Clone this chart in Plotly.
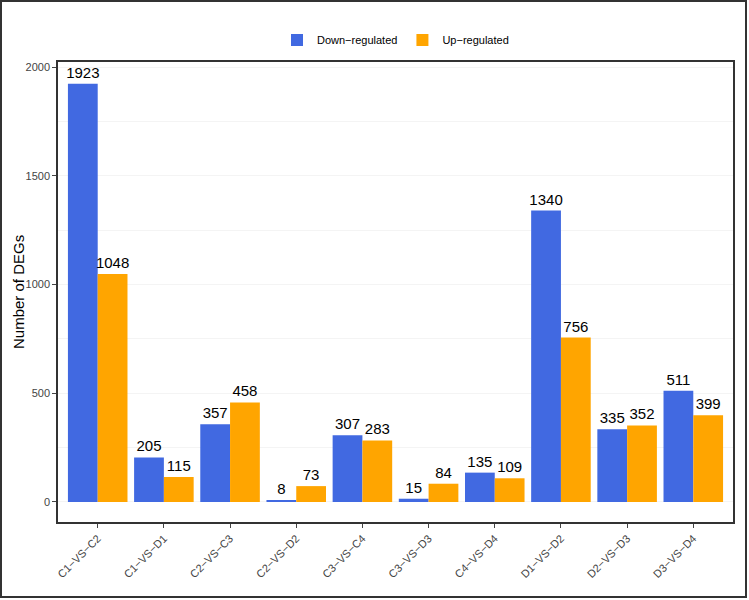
import plotly.graph_objects as go

categories = ["C1-VS-C2", "C1-VS-D1", "C2-VS-C3", "C2-VS-D2", "C3-VS-C4",
              "C3-VS-D3", "C4-VS-D4", "D1-VS-D2", "D2-VS-D3", "D3-VS-D4"]
tick_labels = ["C1−VS−C2", "C1−VS−D1", "C2−VS−C3", "C2−VS−D2", "C3−VS−C4",
               "C3−VS−D3", "C4−VS−D4", "D1−VS−D2", "D2−VS−D3", "D3−VS−D4"]
down = [1923, 205, 357, 8, 307, 15, 135, 1340, 335, 511]
up = [1048, 115, 458, 73, 283, 84, 109, 756, 352, 399]
y_ticks = [0, 500, 1000, 1500, 2000]

FONT = "Liberation Sans, Arial, Helvetica, sans-serif"

fig = go.Figure()
for vals, name, color in [(down, "Down−regulated", "#4169E1"), (up, "Up−regulated", "#FFA500")]:
    fig.add_trace(go.Bar(x=categories, y=vals, name=name,
                         marker=dict(color=color, line=dict(width=0)),
                         text=[str(v) for v in vals], textposition="outside",
                         textfont=dict(size=15, color="black", family=FONT),
                         constraintext="none", cliponaxis=False))

L, R, T, B = 58, 16, 62, 78
W, H = 749, 600
pw, ph = W - L - R, H - T - B

fig.update_layout(
    width=W, height=H,
    margin=dict(l=L, r=R, t=T, b=B, autoexpand=False),
    paper_bgcolor="white", plot_bgcolor="white",
    barmode="group", bargap=0.1, bargroupgap=0,
    font=dict(family=FONT, size=11, color="#333"),
    showlegend=True,
    legend=dict(orientation="h", x=0.5, xanchor="center", y=(522 - 40) / ph, yanchor="middle",
                font=dict(size=11, color="black"), traceorder="normal",
                itemwidth=30, tracegroupgap=0),
)
fig.update_xaxes(
    range=[-0.6, 9.6], tickmode="array", tickvals=categories, ticktext=tick_labels,
    tickangle=-45, tickfont=dict(size=11, color="#444"),
    ticks="outside", ticklen=4, tickcolor="#444", automargin=False,
    showline=True, linecolor="#333", linewidth=1.5, mirror=True,
    showgrid=False, zeroline=False,
)
fig.update_yaxes(
    range=[-92, 2023], tickmode="array", tickvals=y_ticks,
    ticks="outside", ticklen=4, tickcolor="#444", automargin=False,
    tickfont=dict(size=11, color="#444"),
    showline=True, linecolor="#333", linewidth=1.5, mirror=True,
    showgrid=True, gridcolor="#f4f4f4", gridwidth=1, zeroline=False,
    minor=dict(tickvals=[250, 750, 1250, 1750], showgrid=True, gridcolor="#f4f4f4", ticks=""),
)
fig.add_annotation(text="Number of DEGs", xref="paper", yref="paper",
                   x=(18 - L) / pw, y=0.5, xanchor="center", yanchor="middle",
                   textangle=-90, showarrow=False,
                   font=dict(size=15, color="black", family=FONT))
# outer frame around the whole image
fig.add_shape(type="rect", xref="paper", yref="paper",
              x0=(1 - L) / pw, x1=(pw + R - 3) / pw,
              y0=-(B - 3) / ph, y1=1 + (T - 1) / ph,
              line=dict(color="#333", width=2), fillcolor="rgba(0,0,0,0)", layer="below")

fig.write_html("out.html", config={"displayModeBar": False},
               post_script="document.body.style.margin='0';")
